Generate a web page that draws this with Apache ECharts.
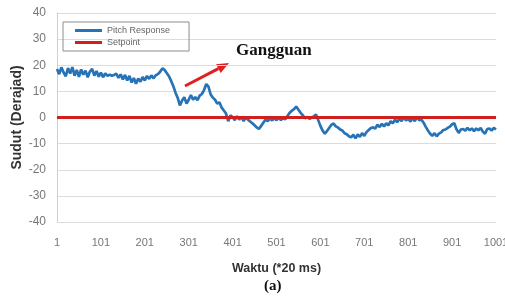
<!DOCTYPE html>
<html>
<head>
<meta charset="utf-8">
<script src="https://cdn.jsdelivr.net/npm/echarts@6/dist/echarts.min.js"></script>
<style>
html, body { margin: 0; padding: 0; background: #fff; }
#chart { width: 505px; height: 301px; }
</style>
</head>
<body>
<div id="chart"></div>
<script>
// sample index (every 5th sample, 1..1001)
var samples = [];
for (var i = 0; i <= 200; i++) { samples.push(String(1 + i * 5)); }

// tick labels shown on the x axis
var xTicks = ["1", "101", "201", "301", "401", "501", "601", "701", "801", "901", "1001"];

// pitch response (degrees)
var pitch = [
	18.6, 16.6, 19.2, 17.2, 15.8, 18.9, 16.8, 19.3, 16.0, 18.2, 15.6, 18.4, 16.4, 17.9, 15.4, 17.6, 18.6, 16.0, 17.8, 15.6,
	17.2, 15.4, 16.9, 15.9, 16.4, 16.0, 16.3, 16.8, 15.2, 16.5, 14.6, 16.3, 14.2, 15.9, 13.4, 15.1, 12.9, 14.9, 13.7, 15.5,
	14.2, 15.9, 14.8, 16.1, 15.0, 16.2, 16.6, 17.5, 18.8, 18.2, 17.0, 15.8, 14.0, 12.0, 9.5, 7.5, 4.6, 6.5, 7.8, 5.3,
	6.8, 8.6, 6.8, 7.8, 6.6, 8.4, 9.0, 10.5, 12.8, 11.8, 8.8, 7.6, 6.8, 5.3, 5.8, 3.8, 2.7, 1.5, -1.4, 0.8,
	0.2, -1.0, 0.5, -0.8, 0.3, -1.4, 0.0, -0.8, -1.5, -2.2, -3.0, -3.8, -4.4, -3.2, -2.0, -0.8, -1.4, -0.4, -1.1, -0.3,
	-1.0, -0.2, -0.9, -0.3, -0.7, 0.6, 1.8, 2.6, 3.2, 4.2, 3.0, 1.8, 0.8, -0.3, 0.2, -0.5, 0.0, 0.4, 1.2, -1.0,
	-3.2, -5.0, -6.2, -5.2, -4.0, -2.8, -2.3, -3.4, -3.8, -4.6, -5.0, -6.0, -6.4, -7.2, -7.6, -6.6, -8.0, -6.5, -7.4, -6.0,
	-7.0, -5.6, -4.8, -4.0, -3.8, -4.2, -2.8, -3.6, -2.4, -3.4, -2.2, -3.0, -1.4, -2.2, -0.8, -1.8, -0.4, -1.4, 0.3, -1.2,
	-0.4, -1.6, -0.2, -1.4, 0.2, -1.0, -0.8, -2.0, -3.6, -5.0, -6.2, -7.0, -6.0, -7.2, -6.2, -5.7, -4.8, -4.6, -4.0, -3.5,
	-2.6, -2.2, -4.5, -5.9, -4.6, -4.4, -5.0, -4.0, -4.9, -4.2, -5.2, -4.2, -4.9, -4.0, -5.4, -6.2, -4.4, -4.2, -5.0, -4.0, -4.6
];

var setpoint = 0;

var yTicks = [-40, -30, -20, -10, 0, 10, 20, 30, 40];

var myChart = echarts.init(document.getElementById('chart'));

// arrow for the "Gangguan" note
var tip = [229, 63], tail = [185, 86];
var dx = tip[0] - tail[0], dy = tip[1] - tail[1];
var len = Math.sqrt(dx * dx + dy * dy), ux = dx / len, uy = dy / len;
var bx = tip[0] - 12 * ux, by = tip[1] - 12 * uy;

var option = {
	animation: false,
	grid: {
		left: 57,
		right: 9,
		top: 13,
		bottom: 79,
		outerBoundsMode: 'none'
	},
	legend: {
		orient: 'vertical',
		left: 63,
		top: 22,
		padding: [4, 19, 4, 12],
		itemGap: 3,
		itemWidth: 27,
		itemHeight: 3,
		icon: 'rect',
		borderColor: '#8c8c8c',
		borderWidth: 1,
		textStyle: {
			fontFamily: 'Liberation Sans',
			fontSize: 9,
			color: '#666'
		},
		data: ['Pitch Response', 'Setpoint']
	},
	xAxis: {
		type: 'category',
		boundaryGap: false,
		data: samples,
		name: 'Waktu (*20 ms)',
		nameLocation: 'middle',
		nameGap: 40,
		nameMoveOverlap: false,
		nameTextStyle: {
			fontFamily: 'Liberation Sans',
			fontSize: 12.5,
			fontWeight: 'bold',
			color: '#333'
		},
		axisLine: { lineStyle: { color: '#cfcfcf' } },
		axisTick: { show: false },
		splitLine: { show: false },
		axisLabel: {
			interval: 0,
			margin: 15,
			fontFamily: 'Liberation Sans',
			fontSize: 11,
			color: '#777',
			formatter: function (v) {
				return xTicks.indexOf(v) >= 0 ? v : '';
			}
		}
	},
	yAxis: {
		type: 'value',
		min: yTicks[0],
		max: yTicks[yTicks.length - 1],
		interval: 10,
		name: 'Sudut (Derajad)',
		nameLocation: 'middle',
		nameGap: 33,
		nameMoveOverlap: false,
		nameTextStyle: {
			fontFamily: 'Liberation Sans',
			fontSize: 14,
			fontWeight: 'bold',
			color: '#333'
		},
		axisLine: { show: true, lineStyle: { color: '#cfcfcf' } },
		axisTick: { show: false },
		splitLine: { lineStyle: { color: '#dcdcdc', width: 1 } },
		axisLabel: {
			margin: 11,
			fontFamily: 'Liberation Sans',
			fontSize: 12,
			color: '#777'
		}
	},
	series: [
		{
			name: 'Pitch Response',
			type: 'line',
			data: pitch,
			showSymbol: false,
			symbol: 'none',
			z: 3,
			itemStyle: { color: '#2673b8' },
			lineStyle: { color: '#2673b8', width: 2.7 }
		},
		{
			name: 'Setpoint',
			type: 'line',
			data: [],
			symbol: 'none',
			itemStyle: { color: '#d01f1f' },
			lineStyle: { color: '#d01f1f', width: 3 },
			z: 2,
			markLine: {
				silent: true,
				symbol: ['none', 'none'],
				label: { show: false },
				lineStyle: { color: '#d01f1f', width: 3, type: 'solid' },
				data: [{ yAxis: setpoint }]
			}
		}
	],
	graphic: [
		{
			type: 'text',
			left: 236,
			top: 42,
			style: {
				text: 'Gangguan',
				font: 'bold 17px "Liberation Serif"',
				fill: '#111'
			}
		},
		{
			type: 'line',
			shape: { x1: tail[0], y1: tail[1], x2: bx, y2: by },
			style: { stroke: '#e02020', lineWidth: 3 }
		},
		{
			type: 'polygon',
			shape: { points: [tip, [bx + 5 * uy, by - 5 * ux], [bx - 5 * uy, by + 5 * ux]] },
			style: { fill: '#e02020' }
		},
		{
			type: 'text',
			left: 264,
			top: 279,
			style: {
				text: '(a)',
				font: 'bold 15px "Liberation Serif"',
				fill: '#111'
			}
		}
	]
};

myChart.setOption(option);
</script>
</body>
</html>
